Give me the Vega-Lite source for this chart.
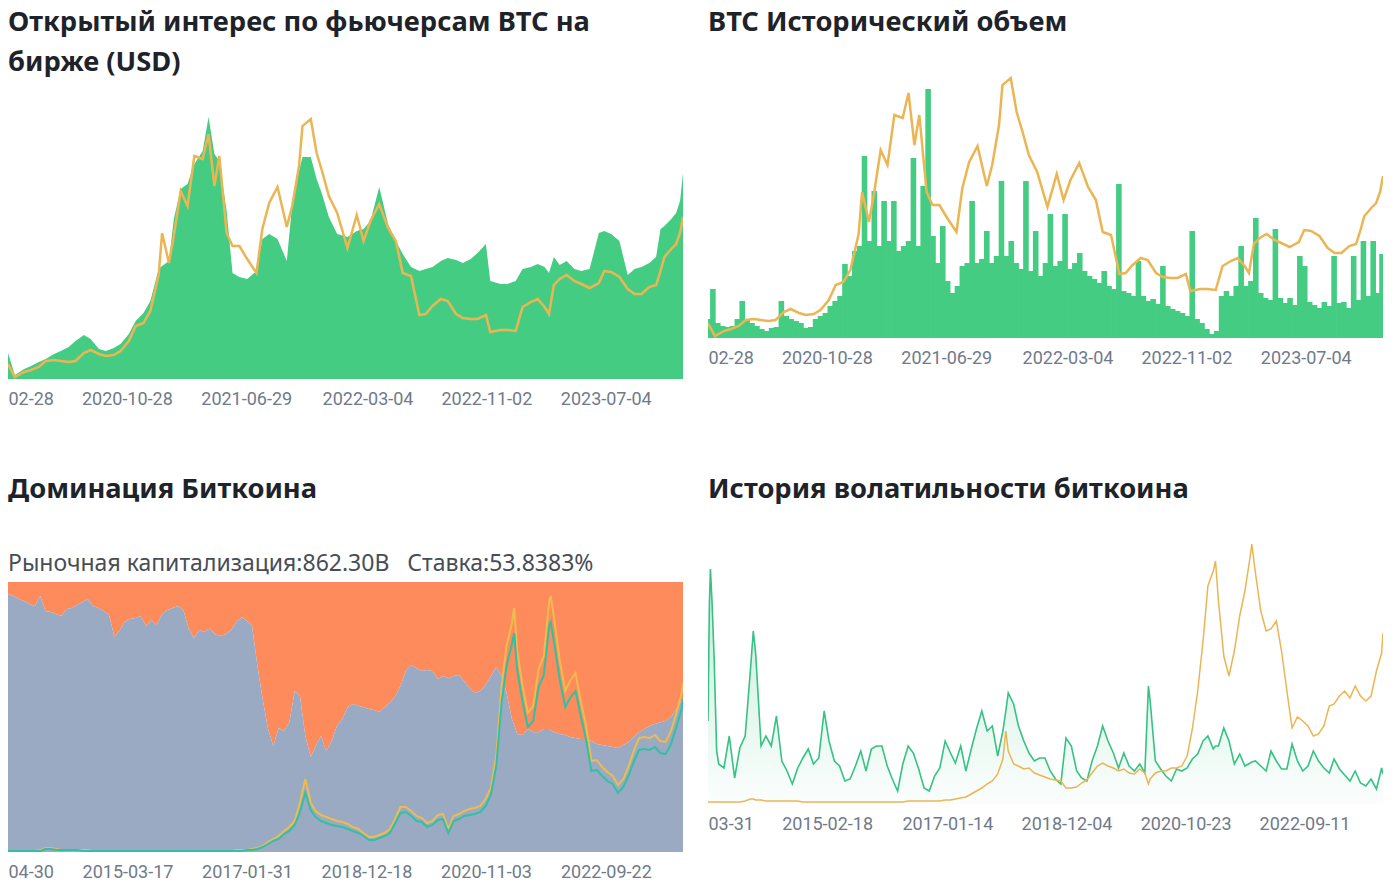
{
"$schema": "https://vega.github.io/schema/vega-lite/v6.json",
"background": "#ffffff",
"padding": {"left": 8, "top": 8, "right": 0, "bottom": 0},
"config": {
 "view": {"stroke": null},
 "title": {"anchor": "start", "frame": "group", "font": "Noto Sans", "fontSize": 27.3, "fontWeight": "bold", "color": "#1e2329", "lineHeight": 40, "offset": 20, "subtitleFont": "Noto Sans", "subtitleFontSize": 23, "subtitleFontWeight": "normal", "subtitleColor": "#474d57", "subtitlePadding": 50},
 "axisX": {"domain": false, "ticks": false, "grid": false, "labelFont": "Roboto", "labelFontSize": 18, "labelColor": "#707a8a", "labelPadding": 11, "labelFlush": true, "labelOverlap": false, "title": null, "format": "%Y-%m-%d"}
},
"datasets": {
 "fut": [
  {"d":"2020-02-28","oi":26,"p":15},{"d":"2020-03-13","oi":4,"p":2},{"d":"2020-04-01","oi":10,"p":7},{"d":"2020-04-15","oi":13,"p":9},{"d":"2020-05-01","oi":17,"p":12},{"d":"2020-05-15","oi":20,"p":18},{"d":"2020-06-01","oi":25,"p":19},{"d":"2020-06-15","oi":28,"p":18},{"d":"2020-07-01","oi":32,"p":17},{"d":"2020-07-15","oi":38,"p":18},{"d":"2020-08-01","oi":44,"p":26},{"d":"2020-08-15","oi":40,"p":29},{"d":"2020-09-01","oi":30,"p":25},{"d":"2020-09-15","oi":28,"p":23},{"d":"2020-10-01","oi":31,"p":24},{"d":"2020-10-15","oi":35,"p":28},{"d":"2020-11-01","oi":45,"p":38},{"d":"2020-11-15","oi":58,"p":53},{"d":"2020-12-01","oi":66,"p":56},{"d":"2020-12-15","oi":78,"p":68},
  {"d":"2021-01-01","oi":110,"p":104},{"d":"2021-01-08","oi":113,"p":146},{"d":"2021-01-22","oi":118,"p":116},{"d":"2021-02-01","oi":160,"p":143},{"d":"2021-02-15","oi":190,"p":188},{"d":"2021-03-01","oi":195,"p":173},{"d":"2021-03-15","oi":215,"p":223},{"d":"2021-04-01","oi":228,"p":220},{"d":"2021-04-13","oi":262,"p":245},{"d":"2021-04-25","oi":225,"p":193},{"d":"2021-05-05","oi":218,"p":223},{"d":"2021-05-20","oi":168,"p":146},{"d":"2021-06-01","oi":106,"p":133},{"d":"2021-06-15","oi":102,"p":133},{"d":"2021-07-01","oi":100,"p":120},{"d":"2021-07-20","oi":108,"p":106},{"d":"2021-08-01","oi":140,"p":150},{"d":"2021-08-15","oi":145,"p":176},{"d":"2021-09-01","oi":140,"p":192},{"d":"2021-09-20","oi":118,"p":152},{"d":"2021-10-01","oi":175,"p":173},{"d":"2021-10-15","oi":208,"p":213},{"d":"2021-10-22","oi":222,"p":253},{"d":"2021-11-08","oi":222,"p":260},{"d":"2021-11-20","oi":200,"p":226},{"d":"2021-12-01","oi":185,"p":208},{"d":"2021-12-15","oi":162,"p":183},
  {"d":"2022-01-01","oi":145,"p":166},{"d":"2022-01-22","oi":142,"p":131},{"d":"2022-02-10","oi":148,"p":164},{"d":"2022-02-24","oi":150,"p":138},{"d":"2022-03-10","oi":158,"p":158},{"d":"2022-03-28","oi":192,"p":175},{"d":"2022-04-15","oi":155,"p":151},{"d":"2022-05-01","oi":138,"p":138},{"d":"2022-05-15","oi":125,"p":106},{"d":"2022-06-01","oi":112,"p":103},{"d":"2022-06-18","oi":108,"p":64},{"d":"2022-07-01","oi":110,"p":65},{"d":"2022-07-15","oi":112,"p":73},{"d":"2022-08-01","oi":118,"p":80},{"d":"2022-08-15","oi":121,"p":78},{"d":"2022-09-01","oi":119,"p":65},{"d":"2022-09-15","oi":116,"p":61},{"d":"2022-10-01","oi":120,"p":60},{"d":"2022-10-15","oi":126,"p":60},{"d":"2022-11-01","oi":135,"p":64},{"d":"2022-11-10","oi":98,"p":47},{"d":"2022-12-01","oi":95,"p":49},{"d":"2022-12-15","oi":95,"p":49},
  {"d":"2023-01-01","oi":98,"p":48},{"d":"2023-01-15","oi":110,"p":72},{"d":"2023-02-01","oi":112,"p":77},{"d":"2023-02-15","oi":115,"p":80},{"d":"2023-03-01","oi":112,"p":72},{"d":"2023-03-10","oi":106,"p":65},{"d":"2023-03-20","oi":122,"p":94},{"d":"2023-04-01","oi":114,"p":100},{"d":"2023-04-15","oi":118,"p":104},{"d":"2023-05-01","oi":110,"p":98},{"d":"2023-05-15","oi":108,"p":95},{"d":"2023-06-01","oi":110,"p":91},{"d":"2023-06-20","oi":146,"p":96},{"d":"2023-07-01","oi":148,"p":108},{"d":"2023-07-15","oi":145,"p":107},{"d":"2023-08-01","oi":138,"p":102},{"d":"2023-08-18","oi":104,"p":90},{"d":"2023-09-01","oi":110,"p":85},{"d":"2023-09-15","oi":112,"p":85},{"d":"2023-10-01","oi":116,"p":92},{"d":"2023-10-15","oi":122,"p":94},{"d":"2023-10-24","oi":150,"p":108},{"d":"2023-11-01","oi":153,"p":122},{"d":"2023-11-15","oi":160,"p":130},{"d":"2023-11-25","oi":166,"p":135},{"d":"2023-12-03","oi":178,"p":146},{"d":"2023-12-09","oi":206,"p":162}
 ],
 "vol": [
  {"d":"2020-02-29","v":19},{"d":"2020-03-09","v":49},{"d":"2020-03-19","v":15},{"d":"2020-03-29","v":12},{"d":"2020-04-08","v":11},{"d":"2020-04-18","v":12},{"d":"2020-04-28","v":19},{"d":"2020-05-08","v":37},{"d":"2020-05-18","v":19},{"d":"2020-05-28","v":15},{"d":"2020-06-07","v":12},{"d":"2020-06-17","v":9},{"d":"2020-06-27","v":7},{"d":"2020-07-07","v":10},{"d":"2020-07-17","v":11},{"d":"2020-07-27","v":37},{"d":"2020-08-06","v":22},{"d":"2020-08-16","v":19},{"d":"2020-08-26","v":17},{"d":"2020-09-05","v":15},{"d":"2020-09-15","v":10},{"d":"2020-09-25","v":11},{"d":"2020-10-05","v":19},{"d":"2020-10-15","v":22},{"d":"2020-10-25","v":25},{"d":"2020-11-04","v":32},{"d":"2020-11-14","v":37},{"d":"2020-11-24","v":42},{"d":"2020-12-04","v":74},{"d":"2020-12-14","v":62},{"d":"2020-12-24","v":87},
  {"d":"2021-01-03","v":92},{"d":"2021-01-13","v":182},{"d":"2021-01-23","v":97},{"d":"2021-02-02","v":147},{"d":"2021-02-12","v":92},{"d":"2021-02-22","v":137},{"d":"2021-03-04","v":97},{"d":"2021-03-14","v":137},{"d":"2021-03-24","v":87},{"d":"2021-04-03","v":92},{"d":"2021-04-13","v":97},{"d":"2021-04-23","v":180},{"d":"2021-05-03","v":92},{"d":"2021-05-13","v":152},{"d":"2021-05-23","v":249},{"d":"2021-06-02","v":102},{"d":"2021-06-12","v":75},{"d":"2021-06-22","v":112},{"d":"2021-07-02","v":57},{"d":"2021-07-12","v":45},{"d":"2021-07-22","v":52},{"d":"2021-08-01","v":72},{"d":"2021-08-11","v":75},{"d":"2021-08-21","v":137},{"d":"2021-08-31","v":75},{"d":"2021-09-10","v":79},{"d":"2021-09-20","v":107},{"d":"2021-09-30","v":75},{"d":"2021-10-10","v":82},{"d":"2021-10-20","v":157},{"d":"2021-10-30","v":82},{"d":"2021-11-09","v":97},{"d":"2021-11-19","v":75},{"d":"2021-11-29","v":69},{"d":"2021-12-09","v":157},{"d":"2021-12-19","v":67},{"d":"2021-12-29","v":107},
  {"d":"2022-01-08","v":62},{"d":"2022-01-18","v":75},{"d":"2022-01-28","v":124},{"d":"2022-02-07","v":72},{"d":"2022-02-17","v":77},{"d":"2022-02-27","v":124},{"d":"2022-03-09","v":69},{"d":"2022-03-19","v":75},{"d":"2022-03-29","v":85},{"d":"2022-04-08","v":67},{"d":"2022-04-18","v":62},{"d":"2022-04-28","v":59},{"d":"2022-05-08","v":55},{"d":"2022-05-18","v":67},{"d":"2022-05-28","v":52},{"d":"2022-06-07","v":49},{"d":"2022-06-17","v":154},{"d":"2022-06-27","v":47},{"d":"2022-07-07","v":45},{"d":"2022-07-17","v":42},{"d":"2022-07-27","v":77},{"d":"2022-08-06","v":42},{"d":"2022-08-16","v":37},{"d":"2022-08-26","v":39},{"d":"2022-09-05","v":34},{"d":"2022-09-15","v":72},{"d":"2022-09-25","v":32},{"d":"2022-10-05","v":29},{"d":"2022-10-15","v":27},{"d":"2022-10-25","v":25},{"d":"2022-11-04","v":22},{"d":"2022-11-14","v":107},{"d":"2022-11-24","v":19},{"d":"2022-12-04","v":15},{"d":"2022-12-14","v":9},{"d":"2022-12-24","v":4},
  {"d":"2023-01-03","v":7},{"d":"2023-01-13","v":42},{"d":"2023-01-23","v":47},{"d":"2023-02-02","v":42},{"d":"2023-02-12","v":52},{"d":"2023-02-22","v":92},{"d":"2023-03-04","v":52},{"d":"2023-03-14","v":57},{"d":"2023-03-24","v":120},{"d":"2023-04-03","v":45},{"d":"2023-04-13","v":40},{"d":"2023-04-23","v":38},{"d":"2023-05-03","v":109},{"d":"2023-05-13","v":40},{"d":"2023-05-23","v":35},{"d":"2023-06-02","v":40},{"d":"2023-06-12","v":33},{"d":"2023-06-22","v":82},{"d":"2023-07-02","v":72},{"d":"2023-07-12","v":36},{"d":"2023-07-22","v":33},{"d":"2023-08-01","v":30},{"d":"2023-08-11","v":36},{"d":"2023-08-21","v":32},{"d":"2023-08-31","v":82},{"d":"2023-09-10","v":35},{"d":"2023-09-20","v":36},{"d":"2023-09-30","v":30},{"d":"2023-10-10","v":82},{"d":"2023-10-20","v":38},{"d":"2023-10-30","v":97},{"d":"2023-11-09","v":42},{"d":"2023-11-19","v":97},{"d":"2023-11-29","v":45},{"d":"2023-12-07","v":84}
 ],
 "dom": [
  {"d":"2013-04-30","dom":95.6,"tot":1,"btc":1},{"d":"2013-06-01","dom":94.8,"tot":1,"btc":1},{"d":"2013-07-01","dom":93.7,"tot":1,"btc":1},{"d":"2013-08-01","dom":93.0,"tot":1,"btc":1},{"d":"2013-09-01","dom":91.9,"tot":1,"btc":1},{"d":"2013-10-01","dom":91.1,"tot":1,"btc":1},{"d":"2013-11-01","dom":94.8,"tot":2,"btc":1},{"d":"2013-12-01","dom":89.3,"tot":4,"btc":3},
  {"d":"2014-01-01","dom":88.9,"tot":4,"btc":3},{"d":"2014-02-01","dom":88.1,"tot":3,"btc":2},{"d":"2014-03-01","dom":87.4,"tot":2,"btc":2},{"d":"2014-04-01","dom":90.0,"tot":2,"btc":2},{"d":"2014-05-01","dom":90.4,"tot":2,"btc":2},{"d":"2014-06-01","dom":91.5,"tot":2,"btc":2},{"d":"2014-07-01","dom":92.6,"tot":2,"btc":1},{"d":"2014-08-01","dom":93.7,"tot":2,"btc":1},{"d":"2014-09-01","dom":91.1,"tot":1,"btc":1},{"d":"2014-10-01","dom":90.4,"tot":1,"btc":1},{"d":"2014-11-01","dom":89.3,"tot":1,"btc":1},{"d":"2014-12-01","dom":87.8,"tot":1,"btc":1},
  {"d":"2015-01-01","dom":79.6,"tot":1,"btc":1},{"d":"2015-02-01","dom":82.2,"tot":1,"btc":1},{"d":"2015-03-01","dom":85.2,"tot":1,"btc":1},{"d":"2015-04-01","dom":86.3,"tot":1,"btc":1},{"d":"2015-05-01","dom":86.7,"tot":1,"btc":1},{"d":"2015-06-01","dom":87.4,"tot":1,"btc":1},{"d":"2015-07-01","dom":83.7,"tot":1,"btc":1},{"d":"2015-08-01","dom":85.9,"tot":1,"btc":1},{"d":"2015-09-01","dom":84.1,"tot":1,"btc":1},{"d":"2015-10-01","dom":88.1,"tot":1,"btc":1},{"d":"2015-11-01","dom":89.6,"tot":1,"btc":1},{"d":"2015-12-01","dom":90.4,"tot":1,"btc":1},
  {"d":"2016-01-01","dom":91.1,"tot":1,"btc":1},{"d":"2016-02-01","dom":89.6,"tot":1,"btc":1},{"d":"2016-03-01","dom":82.9,"tot":1,"btc":1},{"d":"2016-04-01","dom":79.3,"tot":1,"btc":1},{"d":"2016-05-01","dom":82.2,"tot":1,"btc":1},{"d":"2016-06-01","dom":81.5,"tot":1,"btc":1},{"d":"2016-07-01","dom":82.9,"tot":1,"btc":1},{"d":"2016-08-01","dom":80.7,"tot":1,"btc":1},{"d":"2016-09-01","dom":80.0,"tot":1,"btc":1},{"d":"2016-10-01","dom":80.7,"tot":1,"btc":1},{"d":"2016-11-01","dom":82.2,"tot":1,"btc":1},{"d":"2016-12-01","dom":85.2,"tot":2,"btc":1},
  {"d":"2017-01-01","dom":87.0,"tot":2,"btc":1},{"d":"2017-02-01","dom":85.6,"tot":2,"btc":2},{"d":"2017-03-01","dom":83.7,"tot":3,"btc":2},{"d":"2017-04-01","dom":68.9,"tot":4,"btc":3},{"d":"2017-05-01","dom":56.7,"tot":6,"btc":5},{"d":"2017-06-01","dom":45.6,"tot":10,"btc":8},{"d":"2017-07-01","dom":39.3,"tot":13,"btc":11},{"d":"2017-08-01","dom":45.9,"tot":16,"btc":13},{"d":"2017-09-01","dom":44.8,"tot":21,"btc":18},{"d":"2017-10-01","dom":48.1,"tot":25,"btc":21},{"d":"2017-11-01","dom":59.6,"tot":31,"btc":27},{"d":"2017-12-01","dom":57.8,"tot":49,"btc":40},
  {"d":"2018-01-01","dom":43.0,"tot":73,"btc":59},{"d":"2018-02-01","dom":35.2,"tot":49,"btc":42},{"d":"2018-03-01","dom":39.3,"tot":41,"btc":35},{"d":"2018-04-01","dom":43.0,"tot":37,"btc":31},{"d":"2018-05-01","dom":37.4,"tot":35,"btc":29},{"d":"2018-06-01","dom":41.1,"tot":33,"btc":27},{"d":"2018-07-01","dom":46.7,"tot":31,"btc":26},{"d":"2018-08-01","dom":49.3,"tot":30,"btc":25},{"d":"2018-09-01","dom":53.7,"tot":28,"btc":23},{"d":"2018-10-01","dom":54.8,"tot":25,"btc":21},{"d":"2018-11-01","dom":54.1,"tot":23,"btc":19},{"d":"2018-12-01","dom":53.7,"tot":19,"btc":16},
  {"d":"2019-01-01","dom":53.0,"tot":15,"btc":12},{"d":"2019-02-01","dom":52.6,"tot":15,"btc":12},{"d":"2019-03-01","dom":51.9,"tot":17,"btc":14},{"d":"2019-04-01","dom":53.7,"tot":19,"btc":16},{"d":"2019-05-01","dom":55.2,"tot":23,"btc":19},{"d":"2019-06-01","dom":57.8,"tot":33,"btc":29},{"d":"2019-07-01","dom":61.5,"tot":45,"btc":39},{"d":"2019-08-01","dom":67.0,"tot":45,"btc":40},{"d":"2019-09-01","dom":69.3,"tot":41,"btc":36},{"d":"2019-10-01","dom":68.1,"tot":36,"btc":31},{"d":"2019-11-01","dom":67.0,"tot":34,"btc":30},{"d":"2019-12-01","dom":67.4,"tot":29,"btc":25},
  {"d":"2020-01-01","dom":67.0,"tot":31,"btc":27},{"d":"2020-02-01","dom":64.1,"tot":37,"btc":32},{"d":"2020-03-01","dom":65.2,"tot":38,"btc":33},{"d":"2020-04-01","dom":64.4,"tot":23,"btc":19},{"d":"2020-05-01","dom":65.2,"tot":36,"btc":31},{"d":"2020-06-01","dom":65.6,"tot":38,"btc":33},{"d":"2020-07-01","dom":63.3,"tot":41,"btc":36},{"d":"2020-08-01","dom":60.7,"tot":43,"btc":37},{"d":"2020-09-01","dom":58.9,"tot":44,"btc":38},{"d":"2020-10-01","dom":59.6,"tot":46,"btc":40},{"d":"2020-11-01","dom":61.9,"tot":53,"btc":46},{"d":"2020-12-01","dom":65.2,"tot":64,"btc":57},
  {"d":"2021-01-01","dom":68.5,"tot":96,"btc":86},{"d":"2021-02-01","dom":65.2,"tot":166,"btc":150},{"d":"2021-03-01","dom":58.9,"tot":206,"btc":186},{"d":"2021-04-01","dom":49.3,"tot":229,"btc":208},{"d":"2021-04-14","dom":47.0,"tot":244,"btc":219},{"d":"2021-05-01","dom":43.7,"tot":201,"btc":182},{"d":"2021-06-01","dom":43.3,"tot":166,"btc":150},{"d":"2021-07-01","dom":45.6,"tot":139,"btc":125},{"d":"2021-08-01","dom":44.4,"tot":146,"btc":131},{"d":"2021-09-01","dom":44.4,"tot":183,"btc":165},{"d":"2021-10-01","dom":45.6,"tot":196,"btc":177},{"d":"2021-11-01","dom":45.6,"tot":251,"btc":226},{"d":"2021-11-10","dom":45.0,"tot":256,"btc":230},{"d":"2021-12-01","dom":44.4,"tot":231,"btc":207},
  {"d":"2022-01-01","dom":43.7,"tot":191,"btc":172},{"d":"2022-02-01","dom":43.3,"tot":161,"btc":145},{"d":"2022-03-01","dom":42.6,"tot":171,"btc":154},{"d":"2022-04-01","dom":42.2,"tot":179,"btc":161},{"d":"2022-05-01","dom":41.9,"tot":151,"btc":136},{"d":"2022-06-01","dom":41.9,"tot":126,"btc":112},{"d":"2022-07-01","dom":41.1,"tot":91,"btc":81},{"d":"2022-08-01","dom":40.0,"tot":92,"btc":82},{"d":"2022-09-01","dom":39.6,"tot":85,"btc":76},{"d":"2022-10-01","dom":39.3,"tot":80,"btc":71},{"d":"2022-11-01","dom":38.9,"tot":76,"btc":68},{"d":"2022-12-01","dom":38.5,"tot":67,"btc":59},
  {"d":"2023-01-01","dom":39.6,"tot":73,"btc":65},{"d":"2023-02-01","dom":40.7,"tot":86,"btc":77},{"d":"2023-03-01","dom":42.6,"tot":101,"btc":90},{"d":"2023-04-01","dom":44.4,"tot":114,"btc":102},{"d":"2023-05-01","dom":45.6,"tot":115,"btc":103},{"d":"2023-06-01","dom":46.7,"tot":114,"btc":102},{"d":"2023-07-01","dom":47.4,"tot":117,"btc":105},{"d":"2023-08-01","dom":48.1,"tot":111,"btc":99},{"d":"2023-09-01","dom":48.5,"tot":110,"btc":98},{"d":"2023-10-01","dom":50.0,"tot":121,"btc":108},{"d":"2023-11-01","dom":53.0,"tot":139,"btc":125},{"d":"2023-12-01","dom":55.9,"tot":159,"btc":143},{"d":"2023-12-09","dom":53.8,"tot":169,"btc":153}
 ],
 "vola": [
  {"d":"2013-03-31","v":83,"p":2},{"d":"2013-04-08","v":200,"p":2},{"d":"2013-04-14","v":235,"p":2},{"d":"2013-04-24","v":200,"p":2},{"d":"2013-05-06","v":143,"p":2},{"d":"2013-05-20","v":53,"p":2},{"d":"2013-06-01","v":40,"p":2},{"d":"2013-07-01","v":36,"p":2},{"d":"2013-08-01","v":68,"p":2},{"d":"2013-09-01","v":26,"p":2},{"d":"2013-10-01","v":56,"p":2},{"d":"2013-11-01","v":68,"p":3},{"d":"2013-12-01","v":133,"p":5},{"d":"2013-12-18","v":173,"p":5},
  {"d":"2014-01-01","v":150,"p":4},{"d":"2014-02-01","v":58,"p":4},{"d":"2014-03-01","v":68,"p":3},{"d":"2014-04-01","v":58,"p":3},{"d":"2014-05-01","v":88,"p":3},{"d":"2014-06-01","v":43,"p":3},{"d":"2014-07-01","v":33,"p":3},{"d":"2014-08-01","v":20,"p":3},{"d":"2014-09-01","v":36,"p":3},{"d":"2014-10-01","v":46,"p":2},{"d":"2014-11-01","v":55,"p":2},{"d":"2014-12-01","v":40,"p":2},
  {"d":"2015-01-01","v":46,"p":2},{"d":"2015-02-01","v":93,"p":2},{"d":"2015-03-01","v":63,"p":2},{"d":"2015-04-01","v":43,"p":2},{"d":"2015-05-01","v":38,"p":2},{"d":"2015-06-01","v":23,"p":2},{"d":"2015-07-01","v":25,"p":2},{"d":"2015-08-01","v":38,"p":2},{"d":"2015-09-01","v":53,"p":2},{"d":"2015-10-01","v":33,"p":2},{"d":"2015-11-01","v":55,"p":2},{"d":"2015-12-01","v":58,"p":2},
  {"d":"2016-01-01","v":58,"p":2},{"d":"2016-02-01","v":38,"p":2},{"d":"2016-03-01","v":25,"p":2},{"d":"2016-04-01","v":13,"p":2},{"d":"2016-05-01","v":40,"p":2},{"d":"2016-06-01","v":58,"p":3},{"d":"2016-07-01","v":51,"p":3},{"d":"2016-08-01","v":35,"p":3},{"d":"2016-09-01","v":16,"p":3},{"d":"2016-10-01","v":13,"p":3},{"d":"2016-11-01","v":28,"p":3},{"d":"2016-12-01","v":36,"p":3},
  {"d":"2017-01-01","v":63,"p":4},{"d":"2017-02-01","v":51,"p":4},{"d":"2017-03-01","v":41,"p":5},{"d":"2017-04-01","v":58,"p":6},{"d":"2017-05-01","v":33,"p":7},{"d":"2017-06-01","v":55,"p":10},{"d":"2017-07-01","v":75,"p":13},{"d":"2017-08-01","v":93,"p":16},{"d":"2017-09-01","v":73,"p":20},{"d":"2017-10-01","v":78,"p":23},{"d":"2017-11-01","v":48,"p":30},{"d":"2017-12-01","v":73,"p":45},{"d":"2017-12-18","v":93,"p":73},
  {"d":"2018-01-01","v":111,"p":53},{"d":"2018-02-01","v":100,"p":40},{"d":"2018-03-01","v":78,"p":38},{"d":"2018-04-01","v":63,"p":35},{"d":"2018-05-01","v":51,"p":36},{"d":"2018-06-01","v":43,"p":31},{"d":"2018-07-01","v":46,"p":29},{"d":"2018-08-01","v":46,"p":27},{"d":"2018-09-01","v":33,"p":25},{"d":"2018-10-01","v":25,"p":24},{"d":"2018-11-01","v":20,"p":23},{"d":"2018-12-01","v":66,"p":16},
  {"d":"2019-01-01","v":58,"p":16},{"d":"2019-02-01","v":33,"p":17},{"d":"2019-03-01","v":26,"p":21},{"d":"2019-04-01","v":23,"p":24},{"d":"2019-05-01","v":43,"p":31},{"d":"2019-06-01","v":58,"p":38},{"d":"2019-07-01","v":78,"p":41},{"d":"2019-08-01","v":63,"p":38},{"d":"2019-09-01","v":51,"p":36},{"d":"2019-10-01","v":36,"p":33},{"d":"2019-11-01","v":51,"p":35},{"d":"2019-12-01","v":38,"p":31},
  {"d":"2020-01-01","v":33,"p":30},{"d":"2020-02-01","v":40,"p":35},{"d":"2020-03-01","v":31,"p":31},{"d":"2020-03-22","v":118,"p":20},{"d":"2020-04-01","v":103,"p":25},{"d":"2020-05-01","v":43,"p":31},{"d":"2020-06-01","v":35,"p":33},{"d":"2020-07-01","v":28,"p":33},{"d":"2020-08-01","v":23,"p":36},{"d":"2020-09-01","v":35,"p":36},{"d":"2020-10-01","v":33,"p":38},{"d":"2020-11-01","v":36,"p":48},{"d":"2020-12-01","v":45,"p":75},
  {"d":"2021-01-01","v":50,"p":113},{"d":"2021-02-01","v":63,"p":163},{"d":"2021-03-01","v":68,"p":218},{"d":"2021-04-01","v":55,"p":233},{"d":"2021-04-14","v":58,"p":243},{"d":"2021-05-01","v":58,"p":203},{"d":"2021-06-01","v":76,"p":148},{"d":"2021-07-01","v":63,"p":128},{"d":"2021-08-01","v":40,"p":153},{"d":"2021-09-01","v":50,"p":188},{"d":"2021-10-01","v":38,"p":213},{"d":"2021-11-01","v":41,"p":248},{"d":"2021-11-10","v":42,"p":260},{"d":"2021-12-01","v":43,"p":231},
  {"d":"2022-01-01","v":38,"p":193},{"d":"2022-02-01","v":33,"p":173},{"d":"2022-03-01","v":53,"p":175},{"d":"2022-04-01","v":43,"p":183},{"d":"2022-05-01","v":35,"p":153},{"d":"2022-06-01","v":35,"p":113},{"d":"2022-07-01","v":60,"p":76},{"d":"2022-08-01","v":43,"p":87},{"d":"2022-09-01","v":33,"p":83},{"d":"2022-10-01","v":38,"p":78},{"d":"2022-11-01","v":53,"p":68},{"d":"2022-12-01","v":43,"p":70},
  {"d":"2023-01-01","v":36,"p":78},{"d":"2023-02-01","v":31,"p":98},{"d":"2023-03-01","v":45,"p":100},{"d":"2023-04-01","v":35,"p":108},{"d":"2023-05-01","v":29,"p":113},{"d":"2023-06-01","v":23,"p":106},{"d":"2023-07-01","v":33,"p":118},{"d":"2023-08-01","v":21,"p":108},{"d":"2023-09-01","v":18,"p":103},{"d":"2023-10-01","v":25,"p":108},{"d":"2023-11-01","v":15,"p":133},{"d":"2023-12-01","v":36,"p":151},{"d":"2023-12-09","v":30,"p":171}
 ]
},
"vconcat": [
 {"hconcat": [
  {
   "width": 675, "height": 323,
   "title": {"text": ["Открытый интерес по фьючерсам BTC на", "бирже (USD)"], "offset": -20},
   "data": {"name": "fut"},
   "encoding": {"x": {"field": "d", "type": "temporal",
     "scale": {"type": "utc", "padding": 0, "domain": [{"year":2020,"month":2,"date":28,"utc":true},{"year":2023,"month":12,"date":9,"utc":true}]},
     "axis": {"values": [{"year":2020,"month":2,"date":28,"utc":true},{"year":2020,"month":10,"date":28,"utc":true},{"year":2021,"month":6,"date":29,"utc":true},{"year":2022,"month":3,"date":4,"utc":true},{"year":2022,"month":11,"date":2,"utc":true},{"year":2023,"month":7,"date":4,"utc":true}],
       "labelExpr": "datum.label == '2020-02-28' ? '02-28' : datum.label"}}},
   "layer": [
    {"mark": {"type": "area", "color": "#45cc83", "clip": true}, "encoding": {"y": {"field": "oi", "type": "quantitative", "scale": {"domain": [0, 323]}, "axis": null}}},
    {"mark": {"type": "line", "color": "#ecb553", "strokeWidth": 2.5, "clip": true}, "encoding": {"y": {"field": "p", "type": "quantitative", "scale": {"domain": [0, 323]}, "axis": null}}}
   ]
  },
  {
   "width": 675, "height": 282,
   "title": {"text": "BTC Исторический объем"},
   "encoding": {"x": {"field": "d", "type": "temporal",
     "scale": {"type": "utc", "padding": 0, "domain": [{"year":2020,"month":2,"date":28,"utc":true},{"year":2023,"month":12,"date":9,"utc":true}]},
     "axis": {"values": [{"year":2020,"month":2,"date":28,"utc":true},{"year":2020,"month":10,"date":28,"utc":true},{"year":2021,"month":6,"date":29,"utc":true},{"year":2022,"month":3,"date":4,"utc":true},{"year":2022,"month":11,"date":2,"utc":true},{"year":2023,"month":7,"date":4,"utc":true}],
       "labelExpr": "datum.label == '2020-02-28' ? '02-28' : datum.label"}}},
   "layer": [
    {"data": {"name": "vol"}, "mark": {"type": "bar", "color": "#45cc83", "width": 5.6, "clip": true}, "encoding": {"y": {"field": "v", "type": "quantitative", "scale": {"domain": [0, 282]}, "axis": null}}},
    {"data": {"name": "fut"}, "mark": {"type": "line", "color": "#ecb553", "strokeWidth": 2.5, "clip": true}, "encoding": {"y": {"field": "p", "type": "quantitative", "scale": {"domain": [0, 282]}, "axis": null}}}
   ]
  }
 ], "spacing": 25},
 {"hconcat": [
  {
   "width": 675, "height": 311,
   "title": {"text": "Доминация Биткоина", "subtitle": "Рыночная капитализация:862.30B\u00a0\u00a0\u00a0Ставка:53.8383%", "offset": -35},
   "data": {"name": "dom"},
   "encoding": {"x": {"field": "d", "type": "temporal",
     "scale": {"type": "utc", "padding": 0, "domain": [{"year":2013,"month":4,"date":30,"utc":true},{"year":2023,"month":12,"date":9,"utc":true}]},
     "axis": {"values": [{"year":2013,"month":4,"date":30,"utc":true},{"year":2015,"month":3,"date":17,"utc":true},{"year":2017,"month":1,"date":31,"utc":true},{"year":2018,"month":12,"date":18,"utc":true},{"year":2020,"month":11,"date":3,"utc":true},{"year":2022,"month":9,"date":22,"utc":true}],
       "labelExpr": "datum.label == '2013-04-30' ? '04-30' : datum.label"}}},
   "layer": [
    {"mark": {"type": "area", "color": "#fd8b5b", "clip": true}, "encoding": {"y": {"field": "dom", "type": "quantitative", "scale": {"domain": [0, 115.2]}, "axis": null}, "y2": {"datum": 100}}},
    {"mark": {"type": "area", "color": "#9aaac3", "clip": true}, "encoding": {"y": {"field": "dom", "type": "quantitative", "scale": {"domain": [0, 115.2]}, "axis": null}}},
    {"mark": {"type": "line", "color": "#eebc4e", "strokeWidth": 2, "clip": true}, "encoding": {"y": {"field": "tot", "type": "quantitative", "scale": {"domain": [0, 311]}, "axis": null}}},
    {"mark": {"type": "line", "color": "#33bfa6", "strokeWidth": 2, "clip": true}, "encoding": {"y": {"field": "btc", "type": "quantitative", "scale": {"domain": [0, 311]}, "axis": null}}}
   ],
   "resolve": {"scale": {"y": "independent"}}
  },
  {
   "width": 675, "height": 263,
   "title": {"text": "История волатильности биткоина", "offset": 38},
   "data": {"name": "vola"},
   "encoding": {"x": {"field": "d", "type": "temporal",
     "scale": {"type": "utc", "padding": 0, "domain": [{"year":2013,"month":3,"date":31,"utc":true},{"year":2023,"month":12,"date":9,"utc":true}]},
     "axis": {"values": [{"year":2013,"month":3,"date":31,"utc":true},{"year":2015,"month":2,"date":18,"utc":true},{"year":2017,"month":1,"date":14,"utc":true},{"year":2018,"month":12,"date":4,"utc":true},{"year":2020,"month":10,"date":23,"utc":true},{"year":2022,"month":9,"date":11,"utc":true}],
       "labelExpr": "datum.label == '2013-03-31' ? '03-31' : datum.label"}}},
   "layer": [
    {"mark": {"type": "area", "clip": true, "fill": {"gradient": "linear", "x1": 0, "y1": 0, "x2": 0, "y2": 1, "stops": [{"offset": 0, "color": "rgba(53,194,131,0.32)"}, {"offset": 0.6, "color": "rgba(53,194,131,0.13)"}, {"offset": 1, "color": "rgba(53,194,131,0.02)"}]}}, "encoding": {"y": {"field": "v", "type": "quantitative", "scale": {"domain": [0, 263]}, "axis": null}}},
    {"mark": {"type": "line", "color": "#35c283", "strokeWidth": 1.6, "clip": true}, "encoding": {"y": {"field": "v", "type": "quantitative", "scale": {"domain": [0, 263]}, "axis": null}}},
    {"mark": {"type": "line", "color": "#ecb553", "strokeWidth": 1.5, "clip": true}, "encoding": {"y": {"field": "p", "type": "quantitative", "scale": {"domain": [0, 263]}, "axis": null}}}
   ]
  }
 ], "spacing": 25}
],
"spacing": 67
}
